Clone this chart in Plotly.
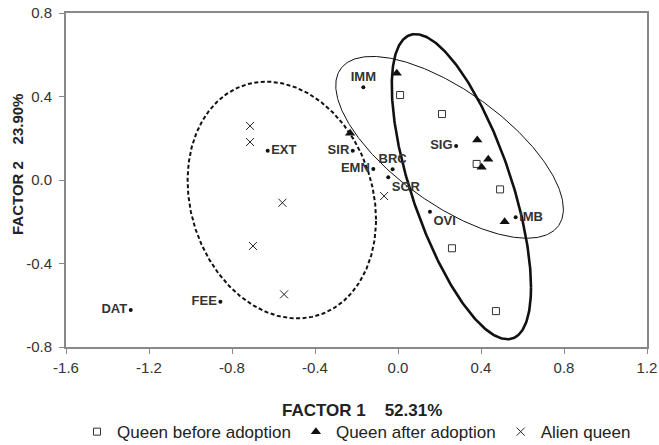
import numpy as np
import plotly.graph_objects as go

# ---- data ----
before_x = [0.010, 0.212, 0.379, 0.492, 0.260, 0.472]
before_y = [0.407, 0.316, 0.077, -0.045, -0.327, -0.628]
after_x = [-0.006, -0.231, 0.382, 0.435, 0.403, 0.514]
after_y = [0.511, 0.224, 0.192, 0.099, 0.061, -0.200]
alien_x = [-0.713, -0.713, -0.557, -0.699, -0.549, -0.067]
alien_y = [0.259, 0.182, -0.109, -0.316, -0.548, -0.077]

var_names = ["IMM", "EXT", "SIR", "EMN", "BRC", "SGR", "SIG", "OVI", "IMB", "FEE", "DAT"]
var_x = [-0.167, -0.628, -0.218, -0.119, -0.026, -0.047, 0.280, 0.154, 0.567, -0.856, -1.288]
var_y = [0.444, 0.140, 0.140, 0.053, 0.051, 0.013, 0.163, -0.152, -0.179, -0.583, -0.623]
var_pos = ["top center", "middle right", "middle left", "middle left", "top center",
           "bottom right", "middle left", "bottom right", "middle right", "middle left", "middle left"]

# ellipse parameters: centre x, centre y, half-width x, half-height y, sin(phase)
ell_cx = [-0.560, 0.3055, 0.2485]
ell_cy = [-0.096, -0.032, 0.1565]
ell_ax = [0.454, 0.3355, 0.5485]
ell_ay = [0.567, 0.731, 0.4355]
ell_sphi = [-0.165, -0.66, -0.68]
ell_width = [2, 2.6, 1]
ell_dash = ["4px,2.5px", "solid", "solid"]

x_ticks = [-1.6, -1.2, -0.8, -0.4, 0.0, 0.4, 0.8, 1.2]
x_ticktext = ["-1.6", "-1.2", "-0.8", "-0.4", "0.0", "0.4", "0.8", "1.2"]
y_ticks = [-0.8, -0.4, 0.0, 0.4, 0.8]
y_ticktext = ["-0.8", "-0.4", "0.0", "0.4", "0.8"]

FONT = "Liberation Sans, Arial, sans-serif"
fig = go.Figure()

t = np.linspace(0, 2 * np.pi, 400)
for cx, cy, ax, ay, sp, w, d in zip(ell_cx, ell_cy, ell_ax, ell_ay, ell_sphi, ell_width, ell_dash):
    phi = np.arcsin(sp)
    fig.add_trace(go.Scatter(x=cx + ax * np.cos(t), y=cy + ay * np.sin(t + phi), mode="lines",
                             line=dict(color="#111111", width=w, dash=d), showlegend=False,
                             hoverinfo="skip"))

fig.add_trace(go.Scatter(x=var_x, y=var_y, mode="markers+text", text=var_names,
                         textposition=var_pos,
                         textfont=dict(family=FONT, size=13, color="#333333", weight="bold"),
                         marker=dict(symbol="circle", size=4, color="#111111"), showlegend=False))

fig.add_trace(go.Scatter(x=before_x, y=before_y, mode="markers", name="Queen before adoption",
                         marker=dict(symbol="square-open", size=7, color="#333333", line=dict(width=1))))
fig.add_trace(go.Scatter(x=after_x, y=after_y, mode="markers", name="Queen after adoption",
                         marker=dict(symbol="triangle-up", size=9, color="#111111")))
fig.add_trace(go.Scatter(x=alien_x, y=alien_y, mode="markers", name="Alien queen",
                         marker=dict(symbol="x-thin-open", size=8, color="#222222", line=dict(width=1))))

axis_common = dict(showgrid=False, zeroline=False, showline=True, linecolor="#888888", linewidth=2,
                   mirror=True, ticks="outside", ticklen=5, tickcolor="#888888", tickwidth=1,
                   tickfont=dict(family=FONT, size=15, color="#333333"), automargin=False)
fig.update_xaxes(range=[-1.6, 1.2], tickvals=x_ticks, ticktext=x_ticktext, ticklabelstandoff=1,
                 **axis_common)
fig.update_yaxes(range=[-0.8, 0.8], tickvals=y_ticks, ticktext=y_ticktext, ticklabelstandoff=4,
                 **axis_common)

fig.add_annotation(text="<b>FACTOR 1\u00a0\u00a0\u00a0\u00a052.31%</b>", xref="paper", yref="paper",
                   x=0.5, y=0, xanchor="center", yanchor="middle", yshift=-63, xshift=5,
                   showarrow=False, font=dict(family=FONT, size=17, color="#222222"))
fig.add_annotation(text="<b>FACTOR 2\u00a0\u00a0\u00a0\u00a023.90%</b>", xref="paper", yref="paper",
                   x=0, y=0.5, xanchor="center", yanchor="middle", xshift=-49, yshift=15,
                   textangle=-90, showarrow=False, font=dict(family=FONT, size=15, color="#222222"))

fig.update_layout(width=659, height=445, margin=dict(l=66, r=12, t=13, b=98, autoexpand=False),
                  plot_bgcolor="white", paper_bgcolor="white",
                  legend=dict(orientation="h", x=0.5, xanchor="center", y=0.029, yanchor="middle",
                              yref="container",
                              font=dict(family=FONT, size=17, color="#222222"), itemwidth=30,
                              tracegroupgap=0))
fig.write_html("out.html")
